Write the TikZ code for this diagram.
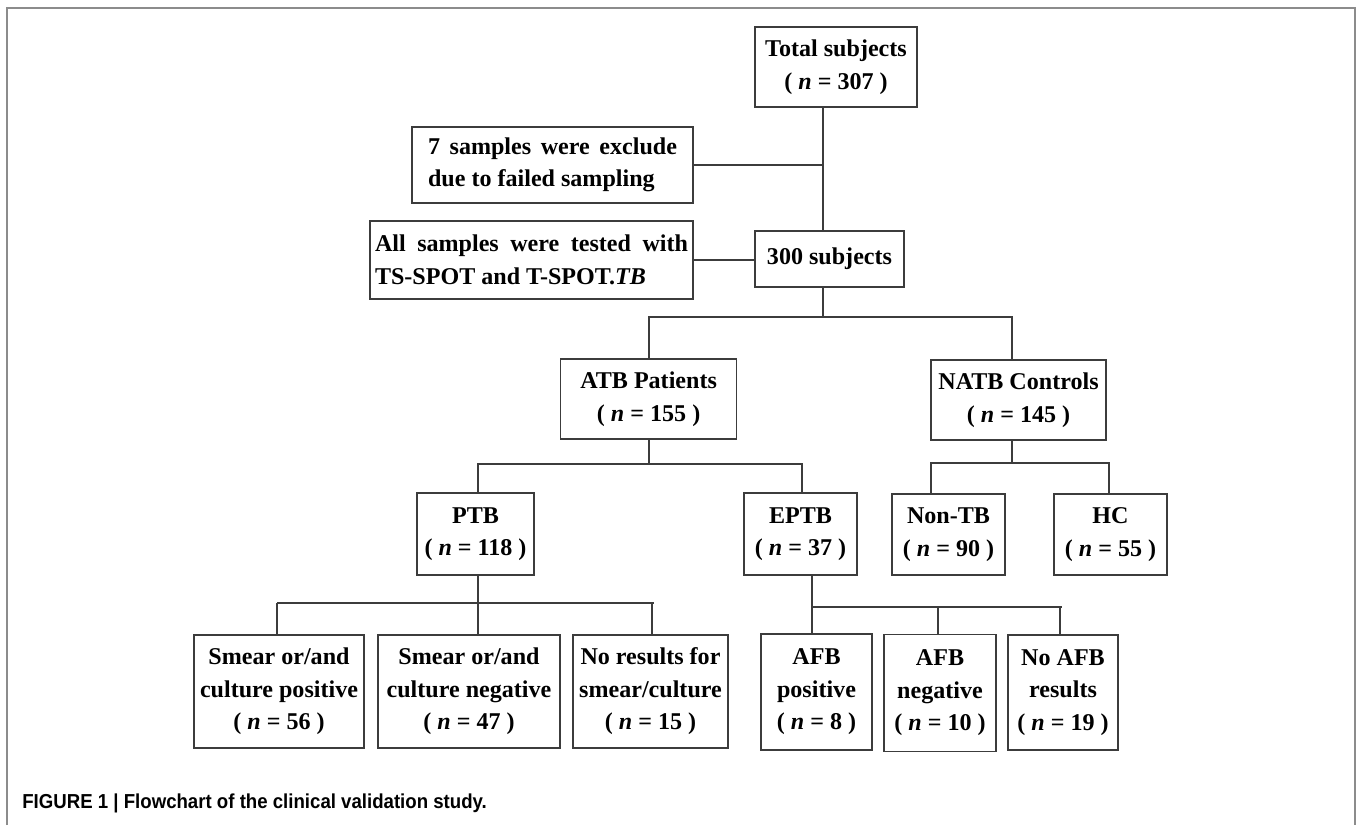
\documentclass[tikz,border=0pt]{standalone}
\usepackage{fontspec}
\setmainfont{Liberation Serif}
\newfontfamily\capfont[FakeStretch=0.922]{Liberation Sans}
\usetikzlibrary{positioning}
\definecolor{boxline}{HTML}{3C3C3C}
\definecolor{framegray}{HTML}{8C8C8C}
\tikzstyle{cohort}=[draw=boxline, line width=0.85pt, inner sep=0pt,
  align=center, font=\bfseries\fontsize{13.7}{18.5}\selectfont]
\tikzstyle{note}=[cohort, align=justify]
\tikzstyle{link}=[draw=boxline, line width=0.85pt]
\tikzset{wh/.style 2 args={minimum width=#1, minimum height=#2}}
\newcommand{\nval}[1]{( \textit{n} = #1 )}

\begin{document}
\begin{tikzpicture}[x=0.02cm, y=-0.02cm]
  \useasboundingbox (0,0) rectangle (1358,825);

  % Outer frame
  \draw[framegray, line width=0.7pt] (7,825) |- (1355,8) -- (1355,825);

  % Draw diagram elements
  \node (tot) [cohort, wh={3.24cm}{1.6cm}] at (836,67) {Total subjects\\\nval{307}};
  \node (excl) [note, wh={5.62cm}{1.52cm}, text width=4.98cm] at (552.5,165)
    {7 samples were exclude due to failed sampling};
  \node (allsam) [note, wh={6.46cm}{1.56cm}, text width=6.26cm] at (531.5,260)
    {All samples were tested with TS-SPOT and T-SPOT.\textit{TB}};
  \node (sub) [cohort, wh={2.98cm}{1.12cm}] at (829.5,259) {300 subjects};

  \node (atb) [cohort, wh={3.52cm}{1.6cm}] at (648.6,399) {ATB Patients\\\nval{155}};
  \node (natb) [cohort, wh={3.5cm}{1.6cm}] at (1018.5,400) {NATB Controls\\\nval{145}};

  \node (ptb) [cohort, wh={2.34cm}{1.64cm}] at (475.5,534) {PTB\\\nval{118}};
  \node (eptb) [cohort, wh={2.26cm}{1.64cm}] at (800.5,534) {EPTB\\\nval{37}};
  \node (nontb) [cohort, wh={2.26cm}{1.62cm}] at (948.5,534.5) {Non-TB\\\nval{90}};
  \node (hc) [cohort, wh={2.26cm}{1.62cm}] at (1110.5,534.5) {HC\\\nval{55}};

  \node (smpos) [cohort, wh={3.4cm}{2.26cm}] at (279,691.5)
    {Smear or/and\\culture positive\\\nval{56}};
  \node (smneg) [cohort, wh={3.64cm}{2.26cm}] at (469,691.5)
    {Smear or/and\\culture negative\\\nval{47}};
  \node (nores) [cohort, wh={3.1cm}{2.26cm}] at (650.5,691.5)
    {No results for\\smear/culture\\\nval{15}};
  \node (afbpos) [cohort, wh={2.22cm}{2.32cm}] at (816.5,692) {AFB\\positive\\\nval{8}};
  \node (afbneg) [cohort, wh={2.24cm}{2.34cm}] at (940,693) {AFB\\negative\\\nval{10}};
  \node (noafb) [cohort, wh={2.2cm}{2.3cm}] at (1063,692.5) {No AFB\\results\\\nval{19}};

  % Joints of the tree
  \coordinate (s0) at (823,317);
  \coordinate (s1) at (649,317);
  \coordinate (s2) at (1012,317);
  \coordinate (a0) at (649,464);
  \coordinate (a1) at (478,464);
  \coordinate (a2) at (802,464);
  \coordinate (c0) at (1012,463);
  \coordinate (c1) at (931,463);
  \coordinate (c2) at (1109,463);
  \coordinate (p0) at (478,603);
  \coordinate (p1) at (277,603);
  \coordinate (p2) at (654,603);
  \coordinate (p3) at (652,603);
  \coordinate (e0) at (812,607);
  \coordinate (e1) at (938,607);
  \coordinate (e2) at (1062,607);
  \coordinate (e3) at (1060,607);

  % Draw lines between elements
  \path [link] (tot.south -| s0) -- (sub.north -| s0);
  \path [link] (excl.east) -- (excl.east -| s0);
  \path [link] (allsam.east) -- (allsam.east -| sub.west);
  \path [link] (sub.south -| s0) -- (s0);
  \path [link] (atb.north -| s1) -- (s1) -- (s2) -- (natb.north -| s2);

  \path [link] (atb.south -| a0) -- (a0);
  \path [link] (ptb.north -| a1) -- (a1) -- (a2) -- (eptb.north -| a2);
  \path [link] (natb.south -| c0) -- (c0);
  \path [link] (nontb.north -| c1) -- (c1) -- (c2) -- (hc.north -| c2);

  \path [link] (ptb.south -| p0) -- (p0);
  \path [link] (p1) -- (p2);
  \path [link] (p1) -- (smpos.north -| p1);
  \path [link] (p0) -- (smneg.north -| p0);
  \path [link] (p3) -- (nores.north -| p3);

  \path [link] (eptb.south -| e0) -- (e0) -- (e2);
  \path [link] (e0) -- (afbpos.north -| e0);
  \path [link] (e1) -- (afbneg.north -| e1);
  \path [link] (e3) -- (noafb.north -| e3);

  % Caption
  \node (cap) [anchor=base west, inner sep=0pt,
    font=\capfont\bfseries\fontsize{11.5}{13}\selectfont] at (22,808)
    {FIGURE 1 | Flowchart of the clinical validation study.};
\end{tikzpicture}
\end{document}
